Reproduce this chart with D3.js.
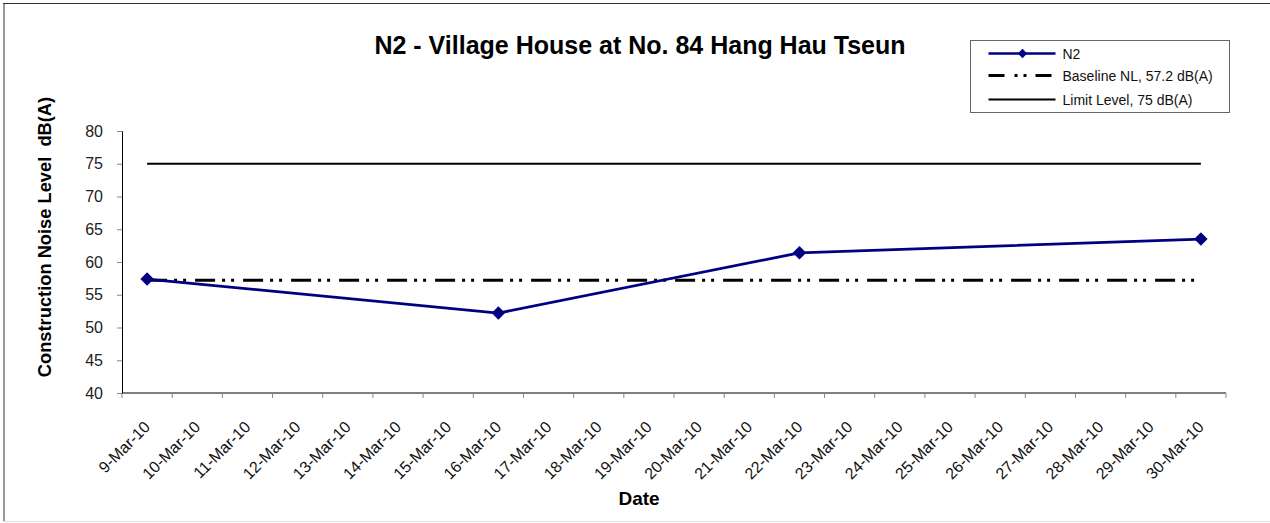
<!DOCTYPE html>
<html>
<head>
<meta charset="utf-8">
<script src="https://cdn.jsdelivr.net/npm/d3@7"></script>
<style>
  body { margin: 0; background: #fff; }
  text { font-family: Arial, "Liberation Sans", sans-serif; }
</style>
</head>
<body>
<div id="chart"></div>
<script>
// categories (x axis)
const dates = ["9-Mar-10", "10-Mar-10", "11-Mar-10", "12-Mar-10", "13-Mar-10", "14-Mar-10",
  "15-Mar-10", "16-Mar-10", "17-Mar-10", "18-Mar-10", "19-Mar-10", "20-Mar-10", "21-Mar-10",
  "22-Mar-10", "23-Mar-10", "24-Mar-10", "25-Mar-10", "26-Mar-10", "27-Mar-10", "28-Mar-10",
  "29-Mar-10", "30-Mar-10"];

// measured N2 levels
const n2Dates = ["9-Mar-10", "16-Mar-10", "22-Mar-10", "30-Mar-10"];
const n2Values = [57.4, 52.2, 61.4, 63.5];

const baseline = 57.2;
const limit = 75;
const yTicks = [40, 45, 50, 55, 60, 65, 70, 75, 80];

const width = 1270, height = 523;
const margin = {left: 122, right: 44, top: 131, bottom: 130};
const dashDot = "20,7,3,6,3,9";

const svg = d3.select("#chart").append("svg")
  .attr("width", width)
  .attr("height", height);

// chart frame
svg.append("line").attr("x1", 4).attr("x2", 4).attr("y1", 3).attr("y2", 521)
  .attr("stroke", "#999").attr("stroke-width", 2);
svg.append("line").attr("x1", 3).attr("x2", 1270).attr("y1", 3.5).attr("y2", 3.5)
  .attr("stroke", "#333");
svg.append("line").attr("x1", 3).attr("x2", 1270).attr("y1", 521.5).attr("y2", 521.5)
  .attr("stroke", "#ddd");

const x = d3.scaleBand()
  .domain(dates)
  .range([margin.left, width - margin.right]);

const y = d3.scaleLinear()
  .domain([40, 80])
  .range([height - margin.bottom, margin.top]);

const cx = d => x(d) + x.bandwidth() / 2;

// Y-axis
const yAxis = svg.append("g")
  .attr("transform", `translate(${margin.left}, 0)`)
  .call(d3.axisLeft(y).tickValues(yTicks).tickSize(5).tickPadding(14));
yAxis.selectAll("text").attr("font-size", 16).attr("fill", "#222");

// X-axis
const xAxis = svg.append("g")
  .attr("transform", `translate(0, ${height - margin.bottom})`)
  .call(d3.axisBottom(x).tickSize(0).tickFormat(""));
xAxis.select(".domain").attr("d", `M${margin.left},0H${width - margin.right}`);

// ticks on band boundaries
xAxis.selectAll(".bnd")
  .data(dates.concat([null]))
  .enter().append("line")
  .attr("x1", (d, i) => margin.left + i * x.step())
  .attr("x2", (d, i) => margin.left + i * x.step())
  .attr("y1", 0).attr("y2", 5)
  .attr("stroke", "#888");

svg.selectAll(".domain").attr("stroke", "#000");
yAxis.selectAll(".tick line").attr("stroke", "#888");

// rotated date labels
svg.append("g").selectAll("text")
  .data(dates)
  .enter().append("text")
  .attr("transform", d => `translate(${cx(d) + 4}, ${height - margin.bottom + 35}) rotate(-45)`)
  .attr("text-anchor", "end")
  .attr("font-size", 16)
  .attr("fill", "#111")
  .text(d => d);

// Limit line
const x0 = cx(dates[0]), x1 = cx(dates[dates.length - 1]);
svg.append("line")
  .attr("x1", x0).attr("x2", x1)
  .attr("y1", y(limit)).attr("y2", y(limit))
  .attr("stroke", "#000").attr("stroke-width", 2);

// Baseline line (dash-dot-dot)
svg.append("line")
  .attr("x1", x0).attr("x2", x1)
  .attr("y1", y(baseline)).attr("y2", y(baseline))
  .attr("stroke", "#000").attr("stroke-width", 3)
  .attr("stroke-dasharray", dashDot);

// N2 series
const pts = n2Dates.map((d, i) => [cx(d), y(n2Values[i])]);
svg.append("path")
  .attr("d", d3.line()(pts))
  .attr("fill", "none")
  .attr("stroke", "#000080")
  .attr("stroke-width", 2.8);

const diamond = d3.symbol().type(d3.symbolDiamond2).size(115);
svg.selectAll(".pt")
  .data(pts)
  .enter().append("path")
  .attr("transform", d => `translate(${d[0]}, ${d[1]})`)
  .attr("d", diamond)
  .attr("fill", "#000080");

// Title
svg.append("text")
  .attr("x", 640).attr("y", 54)
  .attr("text-anchor", "middle")
  .attr("font-size", 25).attr("font-weight", "bold")
  .text("N2 - Village House at No. 84 Hang Hau Tseun");

// Axis titles
svg.append("text")
  .attr("transform", "translate(51, 237) rotate(-90)")
  .attr("text-anchor", "middle")
  .attr("font-size", 18.3).attr("font-weight", "bold")
  .attr("xml:space", "preserve")
  .text("Construction Noise Level  dB(A)");

svg.append("text")
  .attr("x", 639).attr("y", 505)
  .attr("text-anchor", "middle")
  .attr("font-size", 19).attr("font-weight", "bold")
  .text("Date");

// Legend
const legend = svg.append("g").attr("transform", "translate(970.5, 40.5)");
legend.append("rect")
  .attr("width", 259).attr("height", 72)
  .attr("fill", "#fff").attr("stroke", "#666");

const legendItems = [
  {label: "N2", type: "n2"},
  {label: "Baseline NL, 57.2 dB(A)", type: "base"},
  {label: "Limit Level, 75 dB(A)", type: "limit"}
];
const ly = [13, 35, 59];
legendItems.forEach((it, i) => {
  const g = legend.append("g").attr("transform", `translate(0, ${ly[i]})`);
  const ln = g.append("line").attr("x1", 18).attr("x2", 85).attr("y1", 0).attr("y2", 0);
  if (it.type === "n2") {
    ln.attr("stroke", "#000080").attr("stroke-width", 2.5);
    g.append("path").attr("transform", "translate(52, 0)")
      .attr("d", d3.symbol().type(d3.symbolDiamond2).size(55)).attr("fill", "#000080");
  } else if (it.type === "base") {
    ln.attr("stroke", "#000").attr("stroke-width", 3).attr("stroke-dasharray", "16,10,3,6,3,9");
  } else {
    ln.attr("stroke", "#000").attr("stroke-width", 2);
  }
  g.append("text").attr("x", 92).attr("y", 5)
    .attr("font-size", 14).attr("fill", "#111")
    .text(it.label);
});
</script>
</body>
</html>
